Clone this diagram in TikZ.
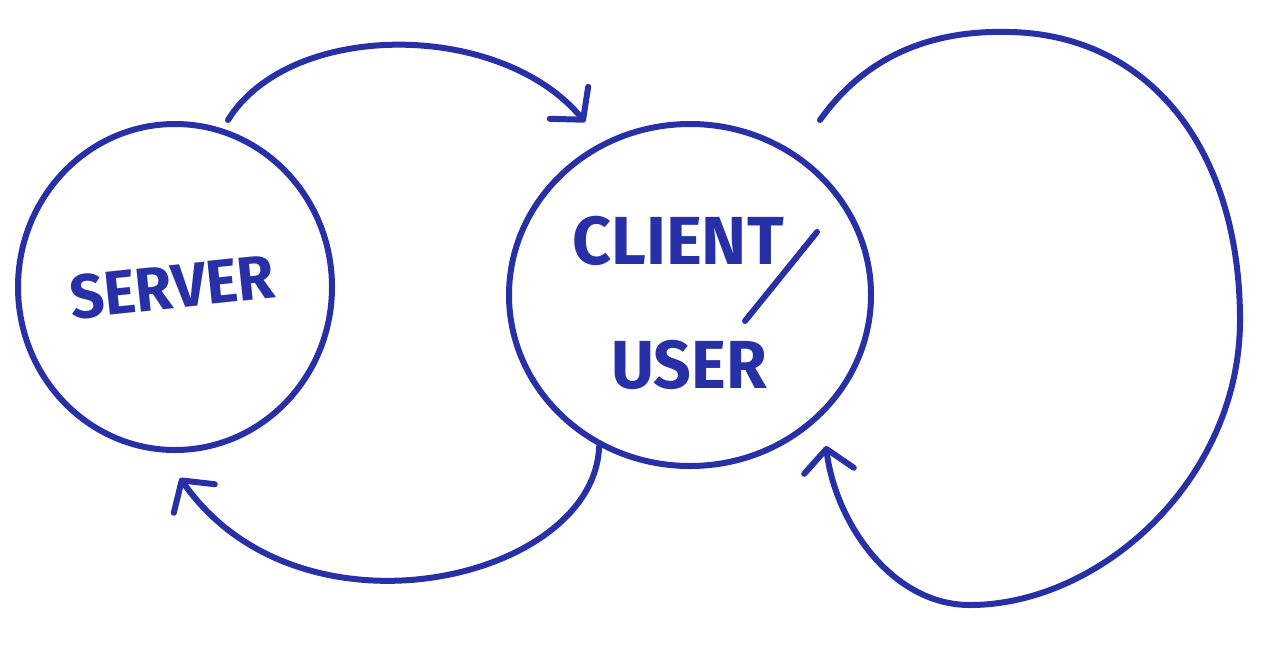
\documentclass[tikz,border=0pt]{standalone}
\usepackage{fontspec}
\setmainfont{Fira Sans}
\usetikzlibrary{shapes.geometric,arrows.meta}
\definecolor{pen}{RGB}{40,48,168}
\tikzset{
  ink/.style={draw=pen, line width=6pt, line cap=round, line join=round},
  bubble/.style={ink, ellipse, inner sep=0pt},
  hand/.style={text=pen, font=\fontsize{62}{62}\selectfont\bfseries, inner sep=0pt},
  bighand/.style={hand, font=\fontsize{68}{68}\selectfont\bfseries},
  arr/.style={ink, -{Straight Barb[length=22pt,width=50pt,round]}}
}
\begin{document}
\begin{tikzpicture}[x=1pt,y=-1pt]
\useasboundingbox (0,0) rectangle (1284,667);
\node[bubble, minimum width=314pt, minimum height=326pt] (server) at (175,287) {};
\node[bubble, minimum width=362pt, minimum height=342pt] (client) at (690,295) {};
\node[hand, rotate=6, xscale=0.97] (servertxt) at (172,287) {SERVER};
\node[bighand, xscale=1.0] (clienttxt) at (678,241) {CLIENT};
\node[bighand, xscale=0.97] (usertxt) at (689,365) {USER};
\coordinate (s1) at (817,232);
\coordinate (s2) at (745,321);
\draw[ink] (s1) -- (s2);
% top arrow
\coordinate (a1) at (228,120);
\coordinate (a2) at (585,122);
\draw[arr] (a1) .. controls (290,20) and (500,20) .. (a2);
% bottom arrow
\coordinate (b2) at (180,478);
\draw[arr] (client.239) .. controls (595,580) and (300,650) .. (b2);
% right loop
\coordinate (c1) at (820,120);
\coordinate (c2) at (826,446);
\draw[arr] (c1) .. controls (870,50) and (940,30) .. (1010,32)
  .. controls (1150,35) and (1240,150) .. (1240,320)
  .. controls (1240,480) and (1100,605) .. (970,605)
  .. controls (890,605) and (835,520) .. (c2);
\end{tikzpicture}
\end{document}
